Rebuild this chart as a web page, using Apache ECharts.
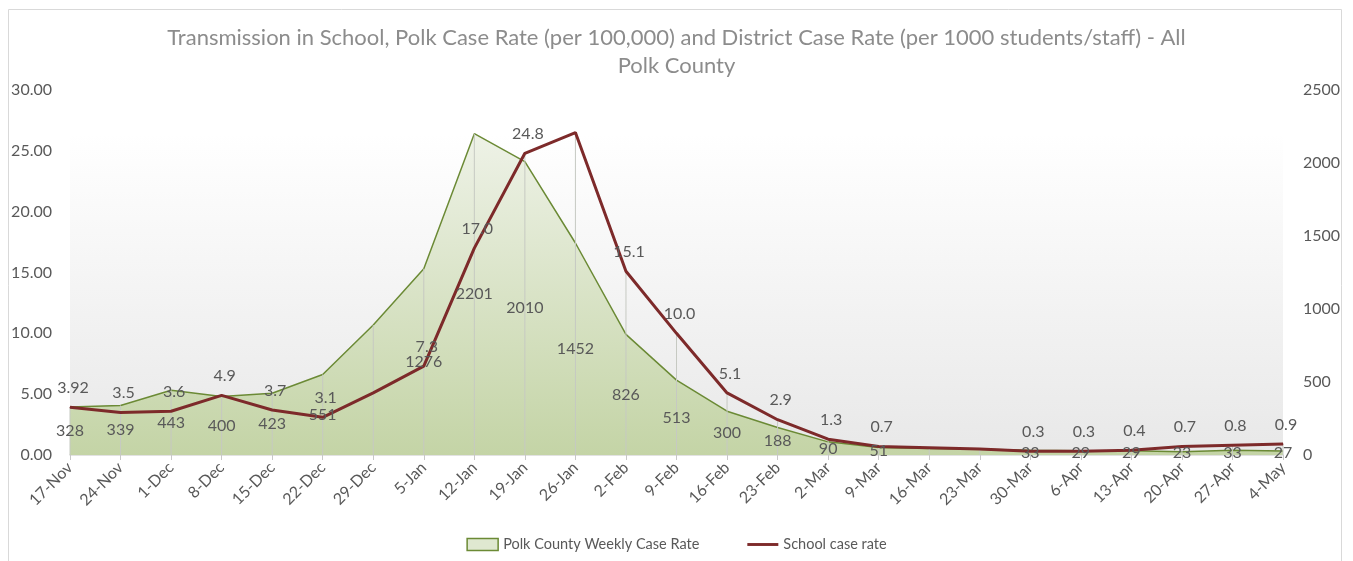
<!DOCTYPE html>
<html>
<head>
<meta charset="utf-8">
<script src="https://cdn.jsdelivr.net/npm/echarts@6/dist/echarts.min.js"></script>
<style>
  html, body { margin: 0; padding: 0; background: #fff; }
  #main { width: 1353px; height: 561px; }
</style>
</head>
<body>
<div id="main"></div>
<script>
// weeks on the category axis
var weeks = ['17-Nov','24-Nov','1-Dec','8-Dec','15-Dec','22-Dec','29-Dec','5-Jan','12-Jan','19-Jan','26-Jan','2-Feb','9-Feb',
             '16-Feb','23-Feb','2-Mar','9-Mar','16-Mar','23-Mar','30-Mar','6-Apr','13-Apr','20-Apr','27-Apr','4-May'];

// Polk County weekly case rate (per 100,000) - right axis
var polkRate = [328, 339, 443, 400, 423, 551, 890, 1276, 2201, 2010, 1452, 826, 513,
                300, 188, 90, 51, 45, 39, 33, 29, 29, 23, 33, 27];
var polkLabels = ['328','339','443','400','423','551','','1276','2201','2010','1452','826','513',
                  '300','188','90','51','','','33','29','29','23','33','27'];

// school case rate (per 1000 students/staff) - left axis
var schoolRate = [3.92, 3.5, 3.6, 4.9, 3.7, 3.1, 5.1, 7.3, 17.0, 24.8, 26.5, 15.1, 10.0,
                  5.1, 2.9, 1.3, 0.7, 0.6, 0.5, 0.3, 0.3, 0.4, 0.7, 0.8, 0.9];
var schoolLabels = ['3.92','3.5','3.6','4.9','3.7','3.1','','7.3','17.0','24.8','','15.1','10.0',
                    '5.1','2.9','1.3','0.7','','','0.3','0.3','0.4','0.7','0.8','0.9'];

// axis ranges
var leftMax = 30, leftStep = 5;
var rightMax = 2500, rightStep = 500;

var txt = '#595959';
var font = 'Lato';

// drop lines reach the higher of the two series (on the left scale)
var dropLines = schoolRate.map(function (v, i) {
    return Math.max(v, polkRate[i] * leftMax / rightMax);
});
// polk labels sit half way down the area
var polkMid = polkRate.map(function (v) { return v / 2; });

var myChart = echarts.init(document.getElementById('main'));

var option = {
    animation: false,
    textStyle: { fontFamily: font },
    title: {
        text: 'Transmission in School, Polk Case Rate (per 100,000) and District Case Rate (per 1000 students/staff) - All\nPolk County',
        left: 'center',
        top: 19,
        textStyle: { fontSize: 22, fontWeight: 'normal', color: '#8c8c8c', lineHeight: 28, fontFamily: font }
    },
    graphic: [{
        type: 'rect',
        silent: true,
        z: -10,
        shape: { x: 8.5, y: 9.5, width: 1333, height: 600 },
        style: { fill: 'none', stroke: '#d9d9d9', lineWidth: 1 }
    }],
    legend: {
        top: 532,
        left: 'center',
        itemGap: 48,
        itemWidth: 31,
        itemHeight: 12,
        textStyle: { fontSize: 14.5, color: txt },
        data: [
            { name: 'Polk County Weekly Case Rate', icon: 'rect',
              itemStyle: { color: '#dfe8d0', borderColor: '#6b8a35', borderWidth: 1.5 } },
            { name: 'School case rate', icon: 'path://M0,0 L32,0 L32,3 L0,3 Z',
              itemStyle: { color: '#7d2a2a' } }
        ]
    },
    grid: {
        left: 70, right: 70, top: 90, bottom: 106,
        show: true,
        borderWidth: 0,
        backgroundColor: new echarts.graphic.LinearGradient(0, 0, 0, 1, [
            { offset: 0, color: '#ffffff' },
            { offset: 0.12, color: '#ffffff' },
            { offset: 1, color: '#e8e8e8' }
        ])
    },
    xAxis: {
        type: 'category',
        data: weeks,
        boundaryGap: false,
        axisLine: { lineStyle: { color: '#d9d9d9', width: 1.5 } },
        axisTick: { show: true, length: 5, lineStyle: { color: '#c8c8c8' } },
        axisLabel: { rotate: 45, fontSize: 16, color: txt, margin: 10, interval: 0 }
    },
    yAxis: [{
        type: 'value',
        min: 0, max: leftMax, interval: leftStep,
        axisLine: { show: false },
        axisTick: { show: false },
        splitLine: { show: false },
        axisLabel: { fontSize: 16, color: txt, margin: 18,
            formatter: function (v) { return v.toFixed(2); } }
    }, {
        type: 'value',
        min: 0, max: rightMax, interval: rightStep,
        axisLine: { show: false },
        axisTick: { show: false },
        splitLine: { show: false },
        axisLabel: { fontSize: 16, color: txt, margin: 20,
            formatter: function (v) { return String(v); } }
    }],
    series: [
        {
            name: 'Polk County Weekly Case Rate',
            type: 'line',
            yAxisIndex: 1,
            data: polkRate,
            symbol: 'none',
            z: 2,
            lineStyle: { color: '#6b8a35', width: 1.5 },
            itemStyle: { color: '#6b8a35' },
            areaStyle: {
                opacity: 1,
                color: new echarts.graphic.LinearGradient(0, 0, 0, 1, [
                    { offset: 0, color: '#eef2e7' },
                    { offset: 1, color: '#c4d4a6' }
                ])
            }
        },
        {
            name: 'drop',
            type: 'bar',
            yAxisIndex: 0,
            data: dropLines,
            barWidth: 1,
            silent: true,
            z: 3,
            itemStyle: { color: '#c6c9c2' }
        },
        {
            name: 'polkLabels',
            type: 'line',
            yAxisIndex: 1,
            data: polkMid,
            symbol: 'circle',
            symbolSize: 1,
            silent: true,
            z: 6,
            lineStyle: { width: 0, opacity: 0 },
            itemStyle: { color: 'rgba(0,0,0,0)' },
            label: {
                show: true,
                position: 'inside',
                fontSize: 16,
                color: txt,
                formatter: function (p) { return polkLabels[p.dataIndex]; }
            }
        },
        {
            name: 'School case rate',
            type: 'line',
            yAxisIndex: 0,
            data: schoolRate,
            symbol: 'circle',
            symbolSize: 1,
            z: 5,
            lineStyle: { color: '#7d2a2a', width: 3 },
            itemStyle: { color: '#7d2a2a' },
            label: {
                show: true,
                position: 'top',
                distance: 11,
                offset: [3, 0],
                fontSize: 16,
                color: txt,
                formatter: function (p) { return schoolLabels[p.dataIndex]; }
            }
        }
    ]
};

myChart.setOption(option);
</script>
</body>
</html>
